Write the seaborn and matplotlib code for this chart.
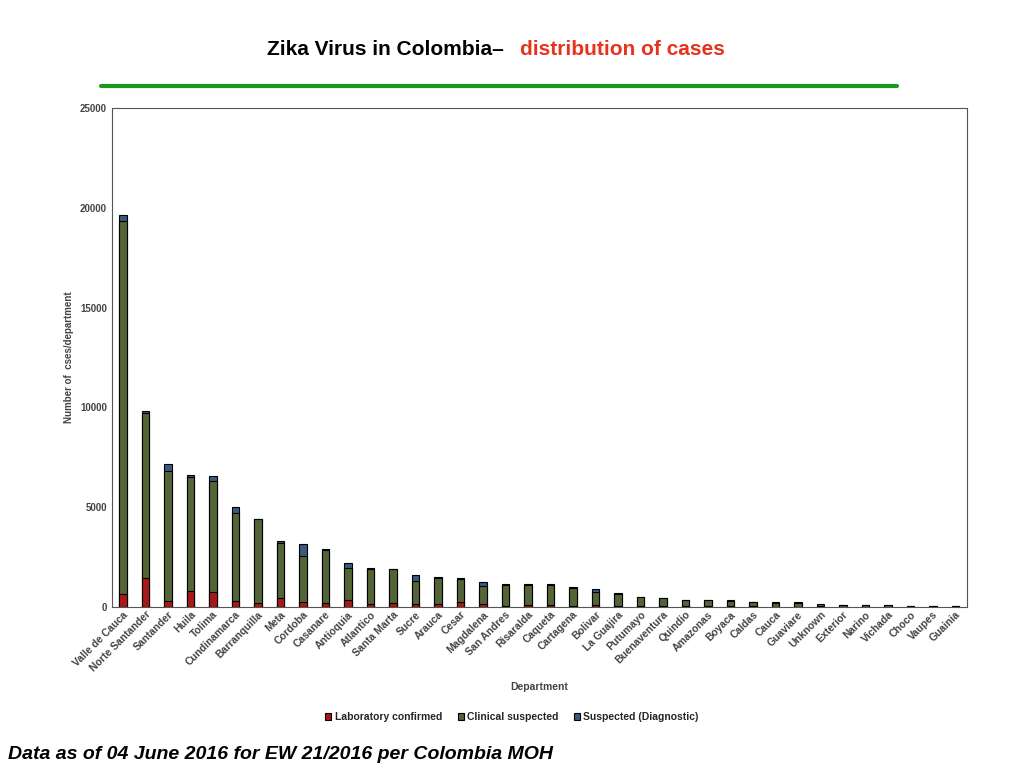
import pandas as pd
import numpy as np
import matplotlib
matplotlib.use("Agg")
import matplotlib.pyplot as plt
import seaborn as sns

# === Dati ===
departments = ["Valle de Cauca", "Norte Santander", "Santander", "Huila", "Tolima",
               "Cundinamarca", "Barranquilla", "Meta", "Cordoba", "Casanare",
               "Antioquia", "Atlantico", "Santa Marta", "Sucre", "Arauca", "Cesar",
               "Magdalena", "San Andres", "Risaralda", "Caqueta", "Cartagena",
               "Bolivar", "La Guajira", "Putumayo", "Buenaventura", "Quindio",
               "Amazonas", "Boyaca", "Caldas", "Cauca", "Guaviare", "Unknown",
               "Exterior", "Narino", "Vichada", "Choco", "Vaupes", "Guainia"]
lab_confirmed = [650, 1450, 300, 800, 750, 300, 200, 450, 250, 200,
                 350, 150, 180, 150, 150, 250, 150, 50, 100, 80, 60,
                 100, 60, 40, 20, 20, 20, 60, 50, 10, 10, 10,
                 10, 10, 10, 5, 5, 5]
clinical = [18700, 8250, 6500, 5700, 5550, 4400, 4200, 2750, 2300, 2650,
            1600, 1720, 1720, 1150, 1310, 1120, 900, 1060, 1010, 1000, 900,
            650, 600, 440, 430, 310, 310, 240, 170, 200, 190, 30,
            70, 70, 60, 25, 25, 25]
suspected = [300, 100, 350, 100, 250, 300, 0, 100, 600, 50,
             250, 80, 0, 300, 40, 80, 200, 40, 40, 40, 20,
             150, 40, 20, 0, 20, 20, 50, 30, 20, 20, 110,
             20, 20, 20, 10, 10, 10]

df = pd.DataFrame({"Department": departments, "lab": lab_confirmed,
                   "clin": clinical, "susp": suspected})

sns.set_theme(style="white")
plt.rcParams['font.family'] = ['Liberation Sans', 'DejaVu Sans']

fig = plt.figure(figsize=(10.24, 7.68), dpi=100)
ax = fig.add_axes([0.109, 0.21, 0.835, 0.649])

df["lab_clin"] = df["lab"] + df["clin"]
df["total"] = df["lab_clin"] + df["susp"]
kw = dict(x="Department", ax=ax, width=0.33, edgecolor="black", linewidth=0.8)
sns.barplot(data=df, y="total", color="#2d5a8c", label="Suspected (Diagnostic)", **kw)
sns.barplot(data=df, y="lab_clin", color="#556b2f", label="Clinical suspected", **kw)
sns.barplot(data=df, y="lab", color="#c00000", label="Laboratory confirmed", **kw)

ax.set_ylim(0, 25000)
ax.set_xlim(-0.5, len(departments) - 0.5)
ax.set_yticks(range(0, 25001, 5000))
ax.tick_params(axis="y", labelsize=7, length=0)
for t in ax.get_yticklabels():
    t.set_fontweight("bold")
    t.set_color("#444444")
ax.set_xticks(range(len(departments)))
ax.set_xticklabels(departments, rotation=45, ha="right", rotation_mode="anchor",
                   fontsize=7.5, fontweight="bold", color="#444444")
ax.tick_params(axis="x", length=0, pad=2)
ax.set_xlabel("Department", fontsize=7.5, fontweight="bold", color="#444444", labelpad=6)
ax.set_ylabel("Number of  cses/department", fontsize=7, fontweight="bold", color="#444444")
for s in ax.spines.values():
    s.set_color("#555555")
    s.set_linewidth(0.8)

h, l = ax.get_legend_handles_labels()
order = [2, 1, 0]
fig.legend([h[i] for i in order], [l[i] for i in order], loc="center",
           bbox_to_anchor=(0.5, 0.066), ncol=3, frameon=False,
           prop={"size": 7.5, "weight": "bold"}, handlelength=0.6,
           handleheight=0.6, columnspacing=1.5, handletextpad=0.3)
ax.get_legend().remove() if ax.get_legend() else None

# titolo
fig.text(0.498, 0.928, "Zika Virus in Colombia\u2013 ", ha="right", fontsize=15,
         fontweight="bold", color="black")
fig.text(0.508, 0.928, "distribution of cases", ha="left", fontsize=15,
         fontweight="bold", color="#e8321e")
fig.add_artist(plt.Line2D([0.099, 0.876], [0.888, 0.888], color="#1a9a1a", linewidth=3))
fig.text(0.008, 0.012, "Data as of 04 June 2016 for EW 21/2016 per Colombia MOH",
         fontsize=14, fontweight="bold", fontstyle="italic", color="black")

fig.savefig("out.png", dpi=100)
